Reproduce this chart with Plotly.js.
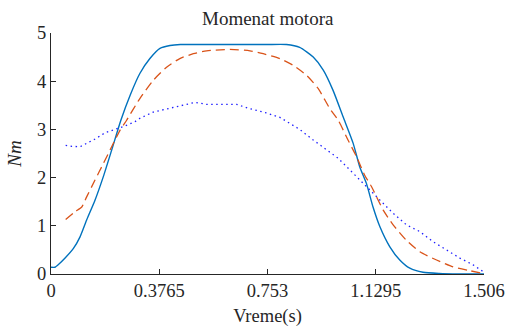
<!DOCTYPE html>
<html>
<head>
<meta charset="utf-8">
<script src="https://cdn.plot.ly/plotly-3.0.1.min.js"></script>
<style>html,body{margin:0;padding:0;background:#fff;overflow:hidden;}#chart{width:508px;height:327px;}</style>
</head>
<body>
<div id="chart"></div>
<script>
// Series 1: solid blue
const solidX = [0, 0.014, 0.025, 0.049, 0.078, 0.101, 0.124, 0.153, 0.182, 0.211, 0.243, 0.276, 0.309, 0.344, 0.379, 0.414, 0.45, 0.55, 0.65, 0.75, 0.819, 0.865, 0.912, 0.947, 0.981, 1.016, 1.051, 1.074, 1.097, 1.120, 1.144, 1.178, 1.213, 1.248, 1.294, 1.35, 1.42, 1.506];
const solidY = [0.14, 0.14, 0.19, 0.33, 0.53, 0.77, 1.12, 1.53, 2.02, 2.57, 3.19, 3.72, 4.16, 4.47, 4.68, 4.74, 4.76, 4.76, 4.76, 4.76, 4.76, 4.70, 4.50, 4.23, 3.81, 3.26, 2.71, 2.22, 1.88, 1.39, 0.98, 0.57, 0.29, 0.12, 0.035, 0.01, 0.0, 0.0];

// Series 2: dashed orange
const dashX = [0.051, 0.083, 0.107, 0.124, 0.153, 0.182, 0.211, 0.240, 0.263, 0.309, 0.356, 0.402, 0.448, 0.495, 0.541, 0.622, 0.692, 0.738, 0.796, 0.842, 0.889, 0.929, 0.970, 0.999, 1.033, 1.063, 1.091, 1.115, 1.155, 1.190, 1.236, 1.283, 1.341, 1.398, 1.456, 1.503];
const dashY = [1.13, 1.29, 1.39, 1.60, 1.95, 2.29, 2.64, 2.98, 3.19, 3.64, 4.02, 4.29, 4.47, 4.57, 4.63, 4.66, 4.63, 4.57, 4.47, 4.33, 4.12, 3.85, 3.43, 3.19, 2.78, 2.43, 2.05, 1.81, 1.33, 1.02, 0.70, 0.46, 0.29, 0.15, 0.07, 0.01];

// Series 3: dotted blue
const dotX = [0.051, 0.072, 0.101, 0.124, 0.153, 0.188, 0.222, 0.257, 0.292, 0.309, 0.356, 0.402, 0.448, 0.501, 0.541, 0.587, 0.645, 0.692, 0.750, 0.796, 0.831, 0.865, 0.912, 0.958, 0.999, 1.051, 1.097, 1.144, 1.190, 1.236, 1.283, 1.329, 1.375, 1.422, 1.468, 1.503];
const dotY = [2.67, 2.65, 2.64, 2.71, 2.80, 2.93, 3.00, 3.07, 3.16, 3.23, 3.36, 3.42, 3.48, 3.56, 3.52, 3.52, 3.52, 3.43, 3.34, 3.25, 3.12, 3.00, 2.78, 2.57, 2.40, 2.09, 1.81, 1.53, 1.26, 1.02, 0.88, 0.67, 0.50, 0.33, 0.19, 0.05];

const xTickVals = [0, 0.3765, 0.753, 1.1295, 1.506];
const xTickText = ['0', '0.3765', '0.753', '1.1295', '1.506'];
const yTickVals = [0, 1, 2, 3, 4, 5];

const FAM = 'Liberation Serif';
const TXT = '#262626';
function fnt(size) { return {family: FAM, size: size, color: TXT}; }

const traces = [
  {x: solidX, y: solidY, mode: 'lines', line: {color: '#0072BD', width: 1.4, shape: 'spline', smoothing: 0.6}, hoverinfo: 'skip'},
  {x: dashX, y: dashY, mode: 'lines', line: {color: '#D95319', width: 1.3, dash: '9px,5px', shape: 'spline', smoothing: 0.6}, hoverinfo: 'skip'},
  {x: dotX, y: dotY, mode: 'lines', line: {color: '#2020ff', width: 1.3, dash: '1.5px,3.5px'}, hoverinfo: 'skip'}
];

const layout = {
  width: 508, height: 327,
  margin: {l: 51, r: 24, t: 33, b: 53, pad: 0},
  paper_bgcolor: '#fff', plot_bgcolor: '#fff',
  showlegend: false,
  font: fnt(18),
  title: {text: 'Momenat motora', font: fnt(19), x: 0.527, xanchor: 'center', y: 0.945, yanchor: 'middle'},
  xaxis: {
    range: [0, 1.506], tickvals: xTickVals, ticktext: xTickText,
    ticks: 'inside', ticklen: 5, tickwidth: 1, tickcolor: TXT,
    showline: true, linecolor: TXT, linewidth: 1, mirror: false,
    showgrid: false, zeroline: false,
    tickfont: fnt(18.5),
    title: {text: 'Vreme(s)', font: fnt(18.5), standoff: 9}
  },
  yaxis: {
    range: [0, 5], tickvals: yTickVals,
    ticks: 'inside', ticklen: 5, tickwidth: 1, tickcolor: TXT,
    showline: true, linecolor: TXT, linewidth: 1, mirror: false,
    showgrid: false, zeroline: false,
    tickfont: fnt(18.5),
    title: {text: '<i>Nm</i>', font: fnt(19), standoff: 10}
  }
};

Plotly.newPlot('chart', traces, layout, {staticPlot: true, displayModeBar: false});
</script>
</body>
</html>
